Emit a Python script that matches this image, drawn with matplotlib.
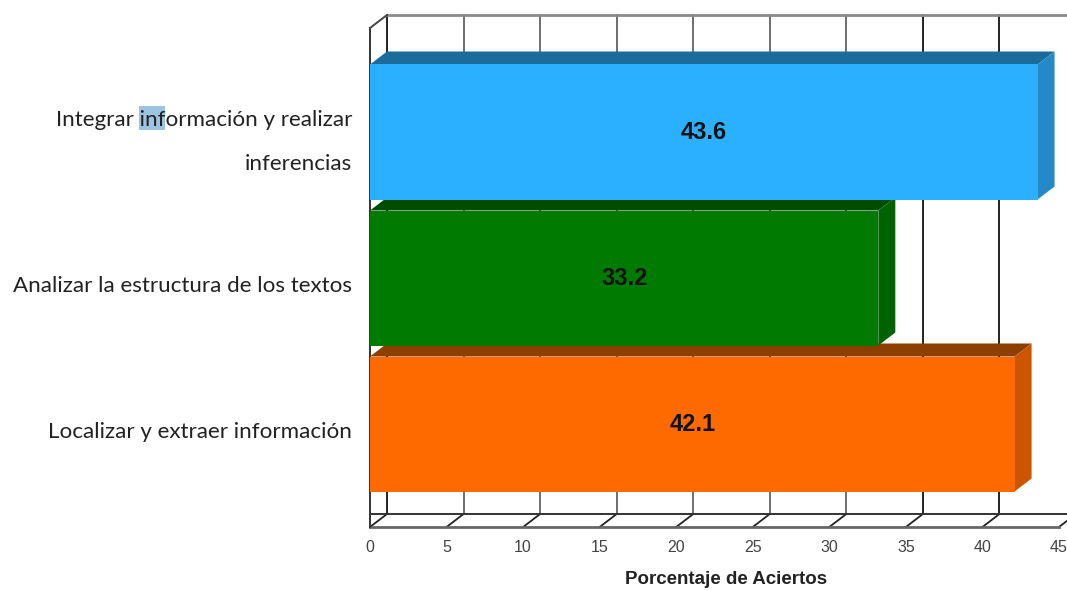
import matplotlib
matplotlib.use("Agg")
import matplotlib.pyplot as plt
from matplotlib.patches import Polygon, Rectangle
from matplotlib.transforms import ScaledTranslation

categories = ["Localizar y extraer información",
              "Analizar la estructura de los textos",
              "Integrar información y realizar\ninferencias"]
values = [42.1, 33.2, 43.6]
front_colors = ["#FF6A00", "#007A00", "#2BB0FF"]
top_colors = ["#8C3F00", "#004D00", "#1B6B9B"]
side_colors = ["#CC5500", "#006200", "#2489C6"]
x_ticks = [0, 5, 10, 15, 20, 25, 30, 35, 40, 45]
x_label = "Porcentaje de Aciertos"

W, H = 1067, 590
fig = plt.figure(figsize=(W / 100, H / 100), dpi=100, facecolor="white")
# axes: x 0..45 spans px 370..1059, front plane spans px y 527..28
ax = fig.add_axes([370 / W, 1 - 527 / H, (1059 - 370) / W, (527 - 28) / H])
ax.patch.set_visible(False)
PY = 146.0  # px per category
ax.set_xlim(0, 45)
ax.set_ylim((424 - 527) / PY, (424 - 28) / PY)
dx = 17 / (689 / 45)
dy = 13 / PY
ymin, ymax = ax.get_ylim()
noclip = dict(clip_on=False)

# back wall
for v in x_ticks:
    gray = "#222222" if v == 0 or v >= 35 else "#6E6E6E"
    ax.plot([v + dx, v + dx], [ymin + dy, ymax + dy], color=gray, lw=1.4, zorder=1, **noclip)
    ax.plot([v, v + dx], [ymin, ymin + dy], color="#222222", lw=1.3, zorder=1, **noclip)
ax.plot([0, 45 + dx], [ymin + dy, ymin + dy], color="#333333", lw=1.4, zorder=1, **noclip)
ax.plot([0, 45], [ymin, ymin], color="#666666", lw=2, zorder=1, **noclip)
ax.plot([dx, 45 + dx], [ymax + dy, ymax + dy], color="#8A8A8A", lw=2, zorder=1, **noclip)
ax.plot([0, 0], [ymin, ymax], color="#333333", lw=1.4, zorder=1, **noclip)
ax.plot([0, dx], [ymax, ymax + dy], color="#444444", lw=1.4, zorder=1, **noclip)

# bars
h = 135 / PY
for i, (v, cf, ct, cs) in enumerate(zip(values, front_colors, top_colors, side_colors)):
    y0, y1 = i - h / 2, i + h / 2
    ax.barh(i, v, height=h, color=cf, zorder=3)
    ax.add_patch(Polygon([(0, y1), (v, y1), (v + dx, y1 + dy), (dx, y1 + dy)],
                         closed=True, fc=ct, ec="none", zorder=2, **noclip))
    ax.add_patch(Polygon([(v, y0), (v + dx, y0 + dy), (v + dx, y1 + dy), (v, y1)],
                         closed=True, fc=cs, ec="none", zorder=2, **noclip))
    ax.text(v / 2, i - 0.005, f"{v:.1f}", ha="center", va="center", fontsize=17,
            fontweight="bold", color="#111111", family="Liberation Sans", zorder=5)

# axes text
ax.set_xticks(x_ticks)
ax.set_xticklabels([str(t) for t in x_ticks], family="Liberation Sans", fontsize=11.5, color="#444444")
ax.tick_params(axis="x", length=0, pad=9)
ax.set_yticks(range(len(categories)))
ax.set_yticklabels(categories, family="Lato", fontsize=16.1, color="#222222", linespacing=2.45)
ax.tick_params(axis="y", length=0, pad=13)
for lab, off in zip(ax.get_yticklabels(), [6, 6, -3.5]):
    lab.set_transform(lab.get_transform() + ScaledTranslation(0, -off / 100, fig.dpi_scale_trans))
for s in ax.spines.values():
    s.set_visible(False)
ax.set_xlabel(x_label, family="Liberation Sans", fontweight="bold", fontsize=13.5, color="#222222")
ax.xaxis.set_label_coords((726 - 370) / 689, (527 - 579) / (527 - 28), transform=ax.transAxes)
ax.xaxis.label.set_va("center")

# selection highlight behind "inf"
fig.add_artist(Rectangle((139 / W, 1 - 130 / H), 26 / W, 24 / H, transform=fig.transFigure,
                         fc="#9CC3E0", ec="none", zorder=-1))
fig.savefig("out.png", dpi=100)
